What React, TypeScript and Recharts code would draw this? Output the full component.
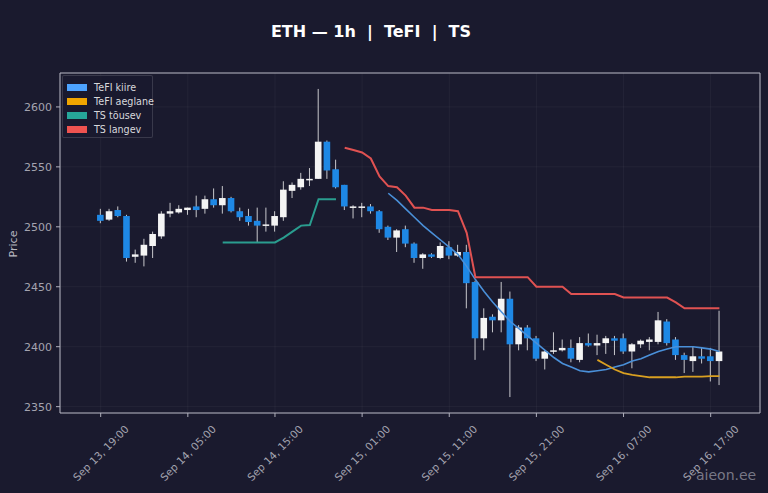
import React from 'react';
import { ComposedChart, Bar, Line, XAxis, YAxis, CartesianGrid, ReferenceArea } from 'recharts';

// hourly candles, index 0 = Sep 13 19:00
const opens = [
  2510, 2506, 2514, 2509, 2475, 2476, 2484, 2492, 2511, 2512, 2514, 2517, 2515, 2523, 2518, 2524, 2513, 2509,
  2505, 2501, 2501, 2508, 2530, 2533, 2539, 2540, 2571, 2548, 2535, 2516, 2516, 2517, 2513, 2500, 2491, 2498,
  2486, 2474, 2477, 2474, 2483, 2476, 2479, 2454, 2407, 2425, 2422, 2440, 2402, 2416, 2407, 2390, 2396, 2397,
  2399, 2389, 2403, 2401, 2403, 2407, 2407, 2396, 2402, 2404, 2404, 2421, 2406, 2393, 2388, 2392, 2392, 2388,
];
const highs = [
  2515, 2515, 2517, 2510, 2481, 2490, 2496, 2513, 2520, 2518, 2516, 2526, 2526, 2532, 2534, 2525, 2516, 2515,
  2516, 2516, 2513, 2538, 2537, 2545, 2549, 2615, 2572, 2556, 2535, 2518, 2520, 2519, 2514, 2501, 2498, 2501,
  2487, 2478, 2478, 2487, 2488, 2485, 2485, 2455, 2432, 2427, 2454, 2446, 2418, 2418, 2409, 2397, 2412, 2406,
  2406, 2408, 2411, 2410, 2409, 2409, 2411, 2403, 2406, 2408, 2429, 2423, 2408, 2395, 2400, 2399, 2399, 2430,
];
const lows = [
  2503, 2505, 2508, 2471, 2470, 2467, 2474, 2490, 2508, 2511, 2510, 2508, 2511, 2516, 2511, 2512, 2505, 2501,
  2487, 2496, 2496, 2505, 2524, 2531, 2534, 2540, 2540, 2532, 2514, 2507, 2508, 2511, 2495, 2489, 2479, 2483,
  2470, 2465, 2474, 2473, 2473, 2475, 2432, 2389, 2397, 2412, 2412, 2358, 2397, 2397, 2388, 2381, 2394, 2396,
  2387, 2387, 2400, 2393, 2394, 2393, 2394, 2382, 2399, 2397, 2402, 2401, 2389, 2378, 2379, 2386, 2371, 2368,
];
const closes = [
  2505, 2513, 2509, 2474, 2477, 2485, 2494, 2511, 2513, 2515, 2516, 2514, 2523, 2518, 2524, 2513, 2508, 2504,
  2501, 2502, 2509, 2531, 2535, 2540, 2540, 2571, 2547, 2533, 2517, 2517, 2517, 2513, 2498, 2491, 2497, 2486,
  2474, 2477, 2475, 2484, 2476, 2479, 2453, 2407, 2424, 2422, 2440, 2402, 2416, 2407, 2390, 2396, 2397, 2399,
  2390, 2403, 2401, 2403, 2407, 2405, 2396, 2402, 2405, 2406, 2422, 2403, 2393, 2389, 2392, 2390, 2388, 2396,
];

// indicator lines, each starting at the given candle index
const tefiFastStart = 33;
const tefiFast = [
  2528, 2522, 2515, 2508, 2501, 2495, 2489, 2483, 2477, 2467, 2456, 2446, 2437, 2429, 2421, 2415, 2409, 2403,
  2397, 2391, 2386, 2383, 2380, 2379, 2380, 2381, 2383, 2385, 2388, 2390, 2393, 2396, 2398, 2400, 2400, 2400,
  2399, 2398, 2396,
];
const tefiSlowStart = 57;
const tefiSlow = [2389, 2385, 2381, 2378, 2376.5, 2375.5, 2374.5, 2374.5, 2374.5, 2374.5, 2375, 2375, 2375, 2375.5, 2375.5];
const tsUpStart = 14;
const tsUp = [2487, 2487, 2487, 2487, 2487, 2487, 2487, 2491, 2496, 2501, 2501.5, 2523, 2523, 2523];
const tsDownStart = 28;
const tsDown = [
  2566, 2564, 2562, 2557, 2542, 2534, 2533, 2526, 2516, 2516, 2514, 2514, 2514, 2513, 2495, 2458, 2458, 2458,
  2458, 2458, 2458, 2458, 2450, 2450, 2450, 2450, 2444, 2444, 2444, 2444, 2444, 2444, 2441, 2441, 2441, 2441,
  2441, 2441, 2437, 2432, 2432, 2432, 2432, 2432,
];

const xTicks = [0, 10, 20, 30, 40, 50, 60, 70];
const xTickLabels = [
  'Sep 13, 19:00', 'Sep 14, 05:00', 'Sep 14, 15:00', 'Sep 15, 01:00',
  'Sep 15, 11:00', 'Sep 15, 21:00', 'Sep 16, 07:00', 'Sep 16, 17:00',
];
const yTicks = [2350, 2400, 2450, 2500, 2550, 2600];

const BG = '#1a1a2e';
const UP = '#f4f4f4';
const DOWN = '#1e88e5';

const series = [
  { key: 'fast', name: 'TeFI kiire', color: '#4a90d9', patch: '#4da3ff', width: 1.6 },
  { key: 'slow', name: 'TeFI aeglane', color: '#d9a021', patch: '#f0a500', width: 1.8 },
  { key: 'up', name: 'TS tõusev', color: '#2a9d8f', patch: '#26a69a', width: 2 },
  { key: 'down', name: 'TS langev', color: '#e05252', patch: '#ef5350', width: 2 },
];

const pick = (arr: number[], start: number, i: number) =>
  i >= start && i - start < arr.length ? arr[i - start] : null;

const data = opens.map((o, i) => ({
  i,
  open: o,
  high: highs[i],
  low: lows[i],
  close: closes[i],
  range: [lows[i], highs[i]],
  fast: pick(tefiFast, tefiFastStart, i),
  slow: pick(tefiSlow, tefiSlowStart, i),
  up: pick(tsUp, tsUpStart, i),
  down: pick(tsDown, tsDownStart, i),
}));

const Candle = (props: any) => {
  const { x, y, width, height, payload } = props;
  if (x == null || y == null) return null;
  const { open, close, high, low } = payload;
  const top = Math.min(y, y + height);
  const span = Math.abs(height);
  const per = span / (high - low || 1);
  const yOf = (v: number) => top + (high - v) * per;
  const cx = x + width / 2;
  const bodyTop = yOf(Math.max(open, close));
  const bodyH = Math.max(yOf(Math.min(open, close)) - bodyTop, 1.5);
  const fill = close >= open ? UP : DOWN;
  return (
    <g>
      <line x1={cx} x2={cx} y1={top} y2={top + span} stroke="#c8c8cc" strokeWidth={1} />
      <rect x={cx - 3.3} y={bodyTop} width={6.6} height={bodyH} fill={fill} />
    </g>
  );
};

const XTick = (props: any) => {
  const { x, y, payload } = props;
  const idx = xTicks.indexOf(payload.value);
  const cx = x;
  const cy = y + 34;
  return (
    <text
      x={cx}
      y={cy}
      textAnchor="middle"
      dominantBaseline="central"
      transform={`rotate(-45 ${cx} ${cy})`}
      fill="#a4a4b0"
      fontSize={10.5}
      fontFamily="DejaVu Sans"
    >
      {idx >= 0 ? xTickLabels[idx] : ''}
    </text>
  );
};

export default function App() {
  return (
    <div
      style={{
        position: 'absolute',
        left: 0,
        top: 0,
        width: 768,
        height: 493,
        background: BG,
        fontFamily: 'DejaVu Sans',
        overflow: 'hidden',
      }}
    >
      <div
        style={{
          position: 'absolute',
          top: 22,
          left: 0,
          width: 742,
          textAlign: 'center',
          color: '#ffffff',
          fontWeight: 'bold',
          fontSize: 16,
          whiteSpace: 'pre',
        }}
      >
        {'ETH — 1h  |  TeFI  |  TS'}
      </div>
      <div
        style={{
          position: 'absolute',
          left: 13,
          top: 244,
          transform: 'translate(-50%, -50%) rotate(-90deg)',
          color: '#b8b8c0',
          fontSize: 11,
        }}
      >
        Price
      </div>
      <ComposedChart
        width={768}
        height={493}
        data={data}
        margin={{ top: 73, right: 8, bottom: 10, left: 10 }}
      >
        <CartesianGrid stroke="#ffffff" strokeOpacity={0.06} strokeWidth={0.8} />
        <XAxis
          dataKey="i"
          type="number"
          domain={[-4.67, 75.66]}
          allowDataOverflow
          ticks={xTicks}
          tick={<XTick />}
          tickSize={4}
          height={70}
          stroke="#b0b0bc"
          axisLine={false}
          interval={0}
        />
        <YAxis
          type="number"
          domain={[2344.7, 2628.3]}
          allowDataOverflow
          ticks={yTicks}
          width={50}
          tickSize={4}
          tickMargin={4}
          stroke="#b0b0bc"
          axisLine={false}
          tick={{ fill: '#a4a4b0', fontSize: 11, fontFamily: 'DejaVu Sans' }}
        />
        <ReferenceArea
          x1={-4.67}
          x2={75.66}
          y1={2344.7}
          y2={2628.3}
          fill="none"
          stroke="#b8b8c4"
          strokeWidth={1}
          ifOverflow="visible"
        />
        <Bar dataKey="range" barSize={6} shape={<Candle />} isAnimationActive={false} />
        {series.map((s) => (
          <Line
            key={s.key}
            type="linear"
            dataKey={s.key}
            stroke={s.color}
            strokeWidth={s.width}
            dot={false}
            activeDot={false}
            isAnimationActive={false}
          />
        ))}
      </ComposedChart>
      <div
        style={{
          position: 'absolute',
          left: 62,
          top: 75,
          width: 91,
          height: 63,
          boxSizing: 'border-box',
          border: '1px solid rgba(255,255,255,0.14)',
          borderRadius: 2,
          background: 'rgba(26,26,46,0.85)',
          padding: '4px 0 0 4px',
        }}
      >
        {series.map((s) => (
          <div key={s.key} style={{ display: 'flex', alignItems: 'center', height: 14.2 }}>
            <span style={{ display: 'inline-block', width: 20, height: 7, background: s.patch, marginRight: 7, flexShrink: 0 }} />
            <span style={{ color: '#d8d8dc', fontSize: 9.6, whiteSpace: 'nowrap' }}>{s.name}</span>
          </div>
        ))}
      </div>
      <div
        style={{
          position: 'absolute',
          left: 696,
          top: 467,
          color: 'rgba(200,200,210,0.55)',
          fontSize: 14,
        }}
      >
        aieon.ee
      </div>
    </div>
  );
}
